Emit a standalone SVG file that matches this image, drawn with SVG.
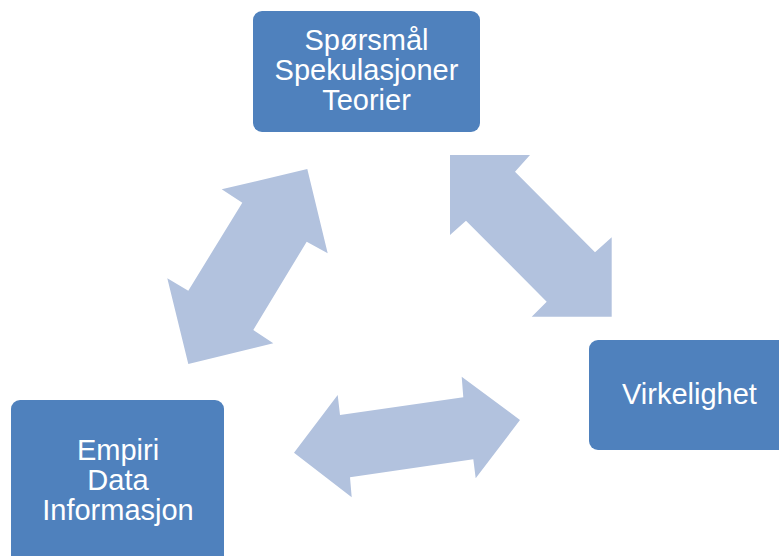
<svg xmlns="http://www.w3.org/2000/svg" width="779" height="556" viewBox="0 0 779 556">
  <style>
    .box { fill: #4f81bd; }
    .lbl { fill: #ffffff; font-family: "Liberation Sans", Arial, sans-serif; font-size: 29px; text-anchor: middle; }
    .arrow { fill: #b2c2de; }
  </style>
  <rect width="779" height="556" fill="#ffffff"/>

  <!-- double-headed block arrows between the three nodes -->
  <g id="connectors">
    <polygon class="arrow" points="307.3,169 327.7,253.3 306.7,241.7 253.3,330 273.3,343.3 188.3,364 167.3,278.3 188.3,290.7 242.3,202.7 221.7,189.3"/>
    <polygon class="arrow" points="450,155 530,155 515,171.7 595,252.3 611.7,237.3 611.7,316.7 531.7,316.7 546.7,301.7 466,220.7 450,235"/>
    <polygon class="arrow" points="294,452.7 337.7,395 340,415 463.3,397.3 461.7,376.7 520,420 475.7,478.3 473.3,459.3 350,477.3 351.7,497.3"/>
  </g>

  <g id="node-teori">
    <rect class="box" x="253" y="11" width="227" height="121" rx="9"/>
    <text class="lbl" x="366.5" y="49.5">Spørsmål</text>
    <text class="lbl" x="366.5" y="79.5">Spekulasjoner</text>
    <text class="lbl" x="366.5" y="110">Teorier</text>
  </g>

  <g id="node-virkelighet">
    <rect class="box" x="589" y="340" width="213" height="110" rx="9"/>
    <text class="lbl" x="689.5" y="403.5">Virkelighet</text>
  </g>

  <g id="node-empiri">
    <rect class="box" x="11" y="400" width="213" height="170" rx="9"/>
    <text class="lbl" x="118" y="459.5">Empiri</text>
    <text class="lbl" x="118" y="490">Data</text>
    <text class="lbl" x="118" y="520">Informasjon</text>
  </g>
</svg>
